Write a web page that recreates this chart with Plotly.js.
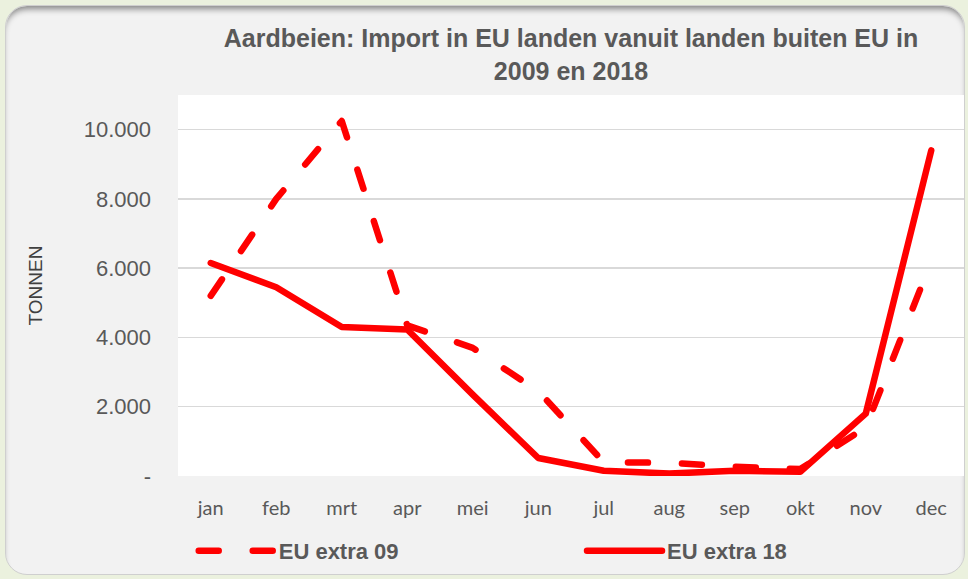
<!DOCTYPE html>
<html>
<head>
<meta charset="utf-8">
<script src="https://cdn.plot.ly/plotly-3.0.1.min.js"></script>
<style>
  html, body { margin: 0; padding: 0; background: #ebf1de; width: 968px; height: 579px; overflow: hidden; }
  #frame {
    position: absolute; left: 5px; top: 5px; width: 960px; height: 570px;
    background: #f2f2f2; border-radius: 22px; border: 1px solid #cfcfcf;
    box-shadow: inset 0 6px 6px -3px rgba(0,0,0,0.45);
    box-sizing: border-box;
  }
  #chart { position: absolute; left: 0; top: 0; width: 968px; height: 579px; }
  .scatterlayer .js-line, .legendlines path { stroke-linecap: round; stroke-linejoin: round; }
</style>
</head>
<body>
<div id="frame"></div>
<div id="chart"></div>
<script>
const months = ["jan","feb","mrt","apr","mei","jun","jul","aug","sep","okt","nov","dec"];
const euExtra09 = [5200, 8000, 10250, 4350, 3700, 2450, 400, 380, 270, 200, 1400, 6200];
const euExtra18 = [6150, 5450, 4300, 4230, 2350, 520, 150, 70, 150, 120, 1800, 9400];
const yTickVals = [0, 2000, 4000, 6000, 8000, 10000];
const yTickText = ["-", "2.000", "4.000", "6.000", "8.000", "10.000"];

const traces = [
  { x: months, y: euExtra09, name: "EU extra 09", type: "scatter", mode: "lines", legend: "legend",
    line: { color: "#ff0000", width: 6.5, dash: "20px,34px" } },
  { x: months, y: euExtra18, name: "EU extra 18", type: "scatter", mode: "lines", legend: "legend2",
    line: { color: "#ff0000", width: 6.5 } }
];

const legendFont = { family: "Liberation Sans, Arial, sans-serif", size: 22, color: "#595959", weight: "bold" };

const layout = {
  width: 968, height: 579,
  paper_bgcolor: "rgba(0,0,0,0)",
  plot_bgcolor: "#ffffff",
  margin: { l: 178, r: 4, t: 95, b: 103 },
  title: {
    text: "Aardbeien: Import in EU landen vanuit landen buiten EU in<br>2009 en 2018",
    font: { family: "Liberation Sans, Arial, sans-serif", size: 25, color: "#595959", weight: "bold" },
    x: 0.5, xref: "paper", xanchor: "center",
    y: 1 - 47/579, yref: "container", yanchor: "top"
  },
  xaxis: {
    type: "category", range: [-0.5, 11.5],
    showgrid: false, zeroline: false, showline: false, ticks: "",
    tickfont: { family: "Lato, Open Sans, sans-serif", size: 20, color: "#595959" },
    ticklabelstandoff: 18
  },
  yaxis: {
    range: [0, 11000],
    tickvals: yTickVals, ticktext: yTickText,
    showgrid: true, gridcolor: "#d9d9d9", gridwidth: 1.5,
    zeroline: false, showline: false, ticks: "",
    tickfont: { family: "Liberation Sans, Arial, sans-serif", size: 22, color: "#595959" },
    ticklabelstandoff: 26,
    title: { text: "TONNEN", font: { family: "Liberation Sans, Arial, sans-serif", size: 19, color: "#404040" }, standoff: 36 }
  },
  showlegend: true,
  legend: {
    orientation: "h", x: 0.02, xanchor: "left", y: -0.197, yanchor: "middle",
    itemwidth: 75, font: legendFont, bgcolor: "rgba(0,0,0,0)"
  },
  legend2: {
    orientation: "h", x: 0.514, xanchor: "left", y: -0.197, yanchor: "middle",
    itemwidth: 75, font: legendFont, bgcolor: "rgba(0,0,0,0)"
  }
};

Plotly.newPlot("chart", traces, layout, { displayModeBar: false, staticPlot: true });
</script>
</body>
</html>
